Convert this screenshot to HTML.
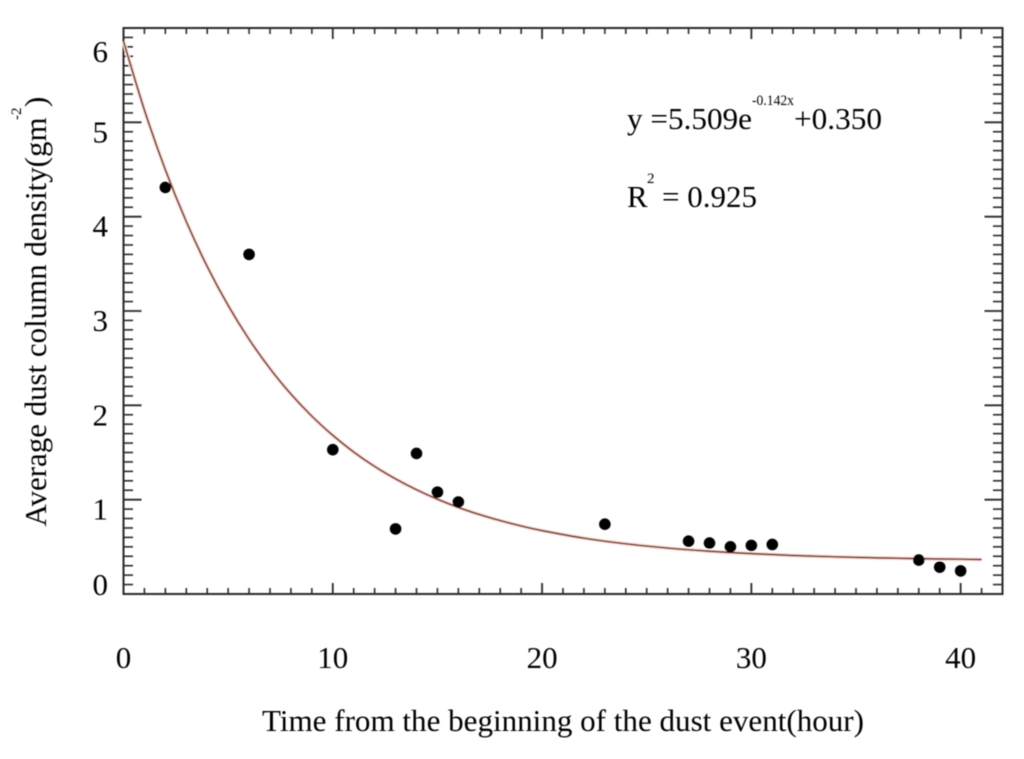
<!DOCTYPE html>
<html>
<head>
<meta charset="utf-8">
<title>Average dust column density</title>
<style>
html,body{margin:0;padding:0;background:#fff;width:1024px;height:759px;overflow:hidden}
svg{display:block}
text{font-family:"Liberation Serif",serif;fill:#000}
</style>
</head>
<body>
<svg id="chart" width="1024" height="759" viewBox="0 0 1024 759" xmlns="http://www.w3.org/2000/svg">
  <defs><filter id="soft" x="-5%" y="-5%" width="110%" height="110%"><feGaussianBlur stdDeviation="0.45"/></filter></defs>
  <g id="root" filter="url(#soft)">
    <g id="ticks"></g>
    <rect x="123.5" y="28" width="879" height="566" fill="none" stroke="#2a2a2a" stroke-width="2"></rect>
    <g id="xlabels"></g>
    <g id="ylabels"></g>
    <path id="halo" fill="none" stroke="#fbe3de" stroke-width="4"></path>
    <path id="curve" fill="none" stroke="#7a3528" stroke-width="1.7"></path>
    <g id="points"></g>
    <text x="262" y="731" font-size="31" textLength="602" lengthAdjust="spacingAndGlyphs">Time from the beginning of the dust event(hour)</text>
    <g>
      <text transform="translate(46 526.5) rotate(-90)" font-size="31" textLength="409" lengthAdjust="spacingAndGlyphs">Average dust column density(gm</text>
      <text transform="translate(21 120) rotate(-90)" font-size="15">-2</text>
      <text transform="translate(46 107) rotate(-90)" font-size="31">)</text>
    </g>
    <g>
      <text x="627" y="129" font-size="31" textLength="125" lengthAdjust="spacingAndGlyphs">y =5.509e</text>
      <text x="752" y="105" font-size="15" textLength="42" lengthAdjust="spacingAndGlyphs">-0.142x</text>
      <text x="794" y="129" font-size="31" textLength="88" lengthAdjust="spacingAndGlyphs">+0.350</text>
    </g>
    <g>
      <text x="627" y="207" font-size="31">R</text>
      <text x="647" y="183" font-size="15">2</text>
      <text x="662" y="207" font-size="31" textLength="95" lengthAdjust="spacingAndGlyphs">= 0.925</text>
    </g>
  </g>
</svg>
<script>
const xTickLabels = [0, 10, 20, 30, 40];
const yTickLabels = [0, 1, 2, 3, 4, 5, 6];
const hours = [2, 6, 10, 13, 14, 15, 16, 23, 27, 28, 29, 30, 31, 38, 39, 40];
const density = [4.31, 3.60, 1.53, 0.69, 1.49, 1.08, 0.975, 0.74, 0.56, 0.54, 0.50, 0.515, 0.525, 0.36, 0.285, 0.245];
const curveHours = [0, 1, 2, 3, 4, 5, 6, 7, 8, 9, 10, 11, 12, 13, 14, 15, 16, 17, 18, 19, 20, 22, 24, 26, 28, 30, 32, 34, 36, 38, 40, 41];
const curveDensity = [5.859, 5.130, 4.497, 3.948, 3.472, 3.059, 2.700, 2.389, 2.119, 1.885, 1.682, 1.505, 1.352, 1.220, 1.105, 1.005, 0.918, 0.843, 0.778, 0.721, 0.672, 0.592, 0.532, 0.487, 0.453, 0.428, 0.408, 0.394, 0.383, 0.375, 0.369, 0.366];

const NS = 'http://www.w3.org/2000/svg';
const plotLeft = 123.5, plotRight = 1002.5, plotTop = 28, plotBottom = 594;
const xMax = 42, yMax = 6;
function xScale(v) { return plotLeft + (plotRight - plotLeft) * v / xMax; }
function yScale(v) { return plotBottom - (plotBottom - plotTop) * v / yMax; }

const tickGroup = document.getElementById('ticks');
function addTick(x1, y1, x2, y2, width) {
  const t = document.createElementNS(NS, 'line');
  t.setAttribute('x1', x1);
  t.setAttribute('y1', y1);
  t.setAttribute('x2', x2);
  t.setAttribute('y2', y2);
  t.setAttribute('stroke', '#2a2a2a');
  t.setAttribute('stroke-width', width);
  
  
  tickGroup.appendChild(t);
}
for (let i = 1; i < xMax; i++) {
  const major = i % 10 === 0;
  const len = major ? 11 : 6;
  const w = major ? 1.8 : 1.6;
  addTick(xScale(i), plotBottom, xScale(i), plotBottom - len, w);
  addTick(xScale(i), plotTop, xScale(i), plotTop + len, w);
}
for (let i = 1; i < yMax * 10; i++) {
  const major = i % 10 === 0;
  const len = major ? 18 : 9.5;
  const w = major ? 1.8 : 1.6;
  addTick(plotLeft, yScale(i / 10), plotLeft + len, yScale(i / 10), w);
  addTick(plotRight, yScale(i / 10), plotRight - len, yScale(i / 10), w);
}

const xLabelGroup = document.getElementById('xlabels');
xTickLabels.forEach(function (v) {
  const t = document.createElementNS(NS, 'text');
  t.setAttribute('x', xScale(v));
  t.setAttribute('y', 668);
  t.setAttribute('font-size', '31');
  t.setAttribute('text-anchor', 'middle');
  
  
  t.textContent = v;
  xLabelGroup.appendChild(t);
});

const yLabelGroup = document.getElementById('ylabels');
yTickLabels.forEach(function (v) {
  const t = document.createElementNS(NS, 'text');
  const centre = Math.max(52, Math.min(585, yScale(v) + 10));
  t.setAttribute('x', 108);
  t.setAttribute('y', centre + 10);
  t.setAttribute('font-size', '31');
  t.setAttribute('text-anchor', 'end');
  
  
  t.textContent = v;
  yLabelGroup.appendChild(t);
});

function smoothPath(xs, ys) {
  const p = xs.map(function (x, i) { return [xScale(x), yScale(ys[i])]; });
  let d = 'M' + p[0][0] + ' ' + p[0][1];
  for (let i = 0; i < p.length - 1; i++) {
    const a = p[Math.max(0, i - 1)], b = p[i], c = p[i + 1], e = p[Math.min(p.length - 1, i + 2)];
    d += ' C' + (b[0] + (c[0] - a[0]) / 6) + ' ' + (b[1] + (c[1] - a[1]) / 6) + ' ' +
         (c[0] - (e[0] - b[0]) / 6) + ' ' + (c[1] - (e[1] - b[1]) / 6) + ' ' + c[0] + ' ' + c[1];
  }
  return d;
}
const curvePath = smoothPath(curveHours, curveDensity);
document.getElementById('curve').setAttribute('d', curvePath);
document.getElementById('halo').setAttribute('d', curvePath);

const pointGroup = document.getElementById('points');
hours.forEach(function (h, i) {
  const c = document.createElementNS(NS, 'circle');
  c.setAttribute('cx', xScale(h));
  c.setAttribute('cy', yScale(density[i]));
  c.setAttribute('r', 5.8);
  c.setAttribute('fill', '#000');
  
  
  pointGroup.appendChild(c);
});
</script>
</body>
</html>
